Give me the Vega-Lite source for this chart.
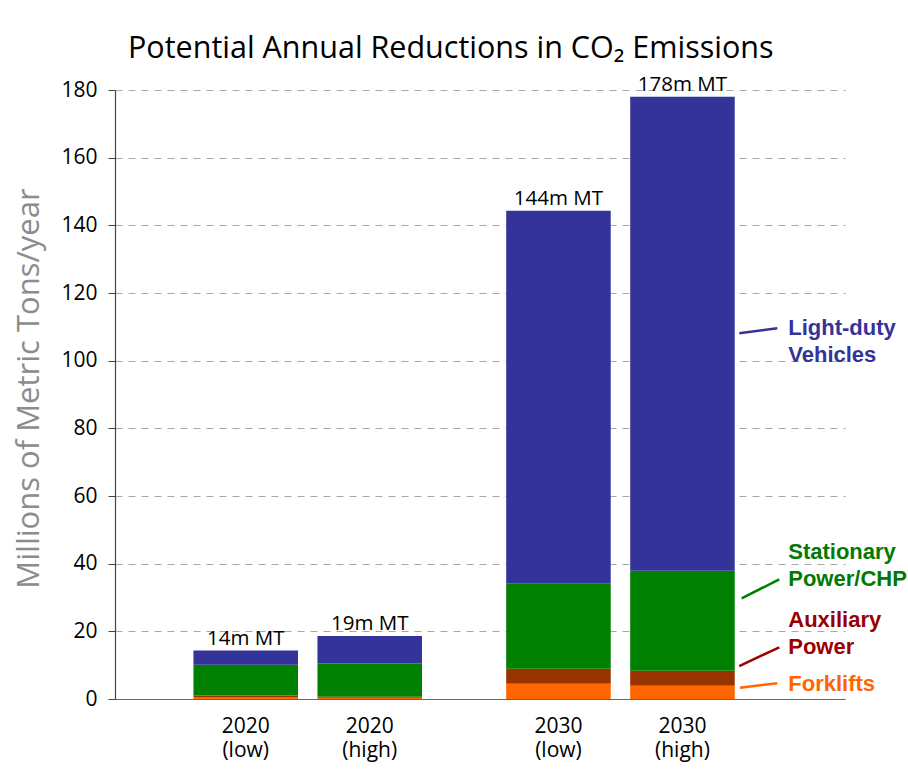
{
  "$schema": "https://vega.github.io/schema/vega-lite/v6.json",
  "width": 730,
  "height": 609,
  "autosize": {"type": "none"},
  "padding": {"left": 115, "top": 90, "right": 63, "bottom": 76},
  "background": "white",
  "title": {
    "text": "Potential Annual Reductions in CO₂ Emissions",
    "font": "Open Sans",
    "fontSize": 30.5,
    "fontWeight": "normal",
    "color": "black",
    "anchor": "start",
    "frame": "group",
    "dx": 13,
    "dy": 46,
    "baseline": "alphabetic",
    "offset": 32
  },
  "config": {"view": {"stroke": null}, "font": "Open Sans"},
  "datasets": {
    "reductions": [
      {"year": "2020", "scenario": "low", "source": "Forklifts", "reduction": 0.6},
      {"year": "2020", "scenario": "low", "source": "Auxiliary Power", "reduction": 0.45},
      {"year": "2020", "scenario": "low", "source": "Stationary Power/CHP", "reduction": 9.05},
      {"year": "2020", "scenario": "low", "source": "Light-duty Vehicles", "reduction": 4.2},
      {"year": "2020", "scenario": "high", "source": "Forklifts", "reduction": 0.4},
      {"year": "2020", "scenario": "high", "source": "Auxiliary Power", "reduction": 0.3},
      {"year": "2020", "scenario": "high", "source": "Stationary Power/CHP", "reduction": 9.8},
      {"year": "2020", "scenario": "high", "source": "Light-duty Vehicles", "reduction": 8.1},
      {"year": "2030", "scenario": "low", "source": "Forklifts", "reduction": 4.5},
      {"year": "2030", "scenario": "low", "source": "Auxiliary Power", "reduction": 4.45},
      {"year": "2030", "scenario": "low", "source": "Stationary Power/CHP", "reduction": 25.25},
      {"year": "2030", "scenario": "low", "source": "Light-duty Vehicles", "reduction": 110.1},
      {"year": "2030", "scenario": "high", "source": "Forklifts", "reduction": 3.95},
      {"year": "2030", "scenario": "high", "source": "Auxiliary Power", "reduction": 4.4},
      {"year": "2030", "scenario": "high", "source": "Stationary Power/CHP", "reduction": 29.55},
      {"year": "2030", "scenario": "high", "source": "Light-duty Vehicles", "reduction": 140.1}
    ],
    "lastBar": [{"year": "2030", "scenario": "high"}]
  },
  "layer": [
    {
      "data": {"name": "reductions"},
      "transform": [
        {"calculate": "indexof(['Forklifts', 'Auxiliary Power', 'Stationary Power/CHP', 'Light-duty Vehicles'], datum.source)", "as": "stackRank"}
      ],
      "mark": {"type": "bar"},
      "encoding": {
        "x": {
          "field": "year",
          "type": "nominal",
          "scale": {"paddingInner": 0.207, "paddingOuter": 0.2706, "align": 0.406},
          "axis": {
            "title": null,
            "labels": false,
            "ticks": false,
            "grid": false,
            "domainColor": "#666666",
            "domainWidth": 1.2
          }
        },
        "xOffset": {
          "field": "scenario",
          "type": "nominal",
          "sort": ["low", "high"],
          "scale": {"paddingInner": 0.157, "paddingOuter": 0.0785}
        },
        "y": {
          "field": "reduction",
          "type": "quantitative",
          "stack": "zero",
          "scale": {"domain": [0, 180], "nice": false},
          "axis": {
            "values": [0, 20, 40, 60, 80, 100, 120, 140, 160, 180],
            "grid": true,
            "gridColor": "#a8a8a8",
            "gridDash": [7, 6],
            "gridWidth": 1,
            "domainColor": "#444444",
            "domainWidth": 1.2,
            "tickColor": "#444444",
            "tickSize": 7,
            "tickWidth": 1,
            "labelFont": "Open Sans",
            "labelFontSize": 21,
            "labelColor": "black",
            "labelPadding": 11,
            "title": "Millions of Metric Tons/year",
            "titleFont": "Open Sans",
            "titleFontSize": 31,
            "titleFontWeight": "normal",
            "titleColor": "#8c8c8c",
            "titleAngle": -90,
            "titleAlign": "center",
            "titleBaseline": "alphabetic",
            "titleX": -77,
            "titleY": 298
          }
        },
        "color": {
          "field": "source",
          "type": "nominal",
          "scale": {
            "domain": ["Forklifts", "Auxiliary Power", "Stationary Power/CHP", "Light-duty Vehicles"],
            "range": ["#ff6600", "#993300", "#008000", "#333399"]
          },
          "legend": null
        },
        "order": {"field": "stackRank", "type": "quantitative", "sort": "ascending"}
      }
    },
    {
      "data": {"name": "reductions"},
      "transform": [
        {"aggregate": [{"op": "sum", "field": "reduction", "as": "total"}], "groupby": ["year", "scenario"]},
        {"calculate": "round(datum.total) + 'm MT'", "as": "totalLabel"}
      ],
      "mark": {"type": "text", "font": "Open Sans", "fontSize": 20.5, "baseline": "alphabetic", "dy": -6, "color": "black"},
      "encoding": {
        "x": {"field": "year", "type": "nominal"},
        "xOffset": {"field": "scenario", "type": "nominal", "sort": ["low", "high"]},
        "y": {"field": "total", "type": "quantitative"},
        "text": {"field": "totalLabel"}
      }
    },
    {
      "data": {"name": "reductions"},
      "transform": [
        {"aggregate": [], "groupby": ["year", "scenario"]},
        {"calculate": "[datum.year, '(' + datum.scenario + ')']", "as": "barLabel"}
      ],
      "mark": {"type": "text", "font": "Open Sans", "fontSize": 21, "baseline": "alphabetic", "dy": 34, "lineHeight": 24, "color": "black"},
      "encoding": {
        "x": {"field": "year", "type": "nominal"},
        "xOffset": {"field": "scenario", "type": "nominal", "sort": ["low", "high"]},
        "y": {"datum": 0, "type": "quantitative"},
        "text": {"field": "barLabel"}
      }
    },
    {
      "data": {"name": "lastBar"},
      "mark": {"type": "point", "shape": "M 56.8 0 L 94.8 -5", "size": 4, "filled": false, "stroke": "#333399", "strokeWidth": 2.5, "opacity": 1},
      "encoding": {
        "x": {"field": "year", "type": "nominal"},
        "xOffset": {"field": "scenario", "type": "nominal", "sort": ["low", "high"]},
        "y": {"datum": 108.1, "type": "quantitative"}
      }
    },
    {
      "data": {"name": "lastBar"},
      "mark": {"type": "point", "shape": "M 59.2 0 L 96.8 -19", "size": 4, "filled": false, "stroke": "#008000", "strokeWidth": 2.5, "opacity": 1},
      "encoding": {
        "x": {"field": "year", "type": "nominal"},
        "xOffset": {"field": "scenario", "type": "nominal", "sort": ["low", "high"]},
        "y": {"datum": 29.76, "type": "quantitative"}
      }
    },
    {
      "data": {"name": "lastBar"},
      "mark": {"type": "point", "shape": "M 56.8 0 L 96.8 -18.7", "size": 4, "filled": false, "stroke": "#990000", "strokeWidth": 2.5, "opacity": 1},
      "encoding": {
        "x": {"field": "year", "type": "nominal"},
        "xOffset": {"field": "scenario", "type": "nominal", "sort": ["low", "high"]},
        "y": {"datum": 9.75, "type": "quantitative"}
      }
    },
    {
      "data": {"name": "lastBar"},
      "mark": {"type": "point", "shape": "M 57.5 0 L 94.8 -4.4", "size": 4, "filled": false, "stroke": "#ff6600", "strokeWidth": 2.5, "opacity": 1},
      "encoding": {
        "x": {"field": "year", "type": "nominal"},
        "xOffset": {"field": "scenario", "type": "nominal", "sort": ["low", "high"]},
        "y": {"datum": 3.34, "type": "quantitative"}
      }
    },
    {
      "data": {"name": "lastBar"},
      "mark": {"type": "text", "font": "Liberation Sans", "fontSize": 22, "fontWeight": "bold", "align": "left", "baseline": "alphabetic", "dx": 105.8, "lineHeight": 27, "color": "#333399"},
      "encoding": {
        "x": {"field": "year", "type": "nominal"},
        "xOffset": {"field": "scenario", "type": "nominal", "sort": ["low", "high"]},
        "y": {"datum": 107.6, "type": "quantitative"},
        "text": {"value": ["Light-duty", "Vehicles"]}
      }
    },
    {
      "data": {"name": "lastBar"},
      "mark": {"type": "text", "font": "Liberation Sans", "fontSize": 22, "fontWeight": "bold", "align": "left", "baseline": "alphabetic", "dx": 105.8, "lineHeight": 27, "color": "#007a00"},
      "encoding": {
        "x": {"field": "year", "type": "nominal"},
        "xOffset": {"field": "scenario", "type": "nominal", "sort": ["low", "high"]},
        "y": {"datum": 41.38, "type": "quantitative"},
        "text": {"value": ["Stationary", "Power/CHP"]}
      }
    },
    {
      "data": {"name": "lastBar"},
      "mark": {"type": "text", "font": "Liberation Sans", "fontSize": 22, "fontWeight": "bold", "align": "left", "baseline": "alphabetic", "dx": 105.8, "lineHeight": 27, "color": "#990000"},
      "encoding": {
        "x": {"field": "year", "type": "nominal"},
        "xOffset": {"field": "scenario", "type": "nominal", "sort": ["low", "high"]},
        "y": {"datum": 21.19, "type": "quantitative"},
        "text": {"value": ["Auxiliary", "Power"]}
      }
    },
    {
      "data": {"name": "lastBar"},
      "mark": {"type": "text", "font": "Liberation Sans", "fontSize": 22, "fontWeight": "bold", "align": "left", "baseline": "alphabetic", "dx": 105.8, "lineHeight": 27, "color": "#ff6600"},
      "encoding": {
        "x": {"field": "year", "type": "nominal"},
        "xOffset": {"field": "scenario", "type": "nominal", "sort": ["low", "high"]},
        "y": {"datum": 2.45, "type": "quantitative"},
        "text": {"value": "Forklifts"}
      }
    }
  ]
}
